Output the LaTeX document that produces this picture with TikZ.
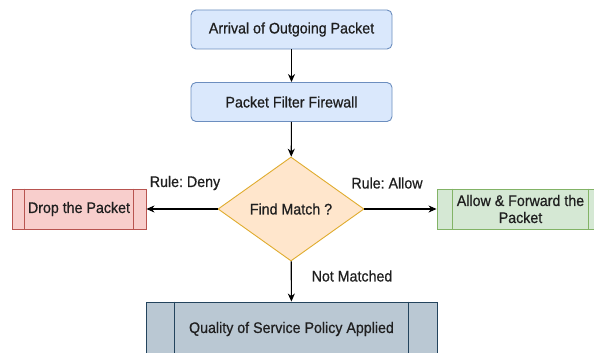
\documentclass[tikz,border=0pt]{standalone}
\usepackage{fontspec}
\setmainfont{Liberation Sans}[FakeStretch=0.93, FakeBold=0.6]
\usetikzlibrary{shapes.geometric,arrows.meta}

\definecolor{blueFill}{HTML}{DAE8FC}
\definecolor{blueLine}{HTML}{6C8EBF}
\definecolor{redFill}{HTML}{F8CECC}
\definecolor{redLine}{HTML}{B85450}
\definecolor{greenFill}{HTML}{D5E8D4}
\definecolor{greenLine}{HTML}{82B366}
\definecolor{orangeFill}{HTML}{FFE6CC}
\definecolor{orangeLine}{HTML}{E0AC2E}
\definecolor{slateFill}{HTML}{BAC8D3}
\definecolor{slateLine}{HTML}{23445D}

\frenchspacing
\tikzset{
  every node/.style={font=\fontsize{15.3}{17}\selectfont, text=black!88},
  stepbox/.style={draw=blueLine, fill=blueFill, rounded corners=5pt, line width=0.9pt,
    minimum width=201pt, minimum height=39pt, inner sep=0pt},
  procbox/.style={rectangle, line width=0.9pt, inner sep=0pt, align=center},
  decision/.style={diamond, draw=orangeLine, fill=orangeFill, line width=0.9pt,
    aspect=1.404, minimum width=146pt, minimum height=104pt, inner sep=0pt},
  flow/.style={line width=1.1pt, -{Stealth[length=8pt,width=7pt,inset=2.5pt]}},
  edgelabel/.style={inner sep=0pt}
}

\begin{document}
\begin{tikzpicture}[x=1pt, y=-1pt]
  \useasboundingbox[fill=white] (0,0) rectangle (594,353);

  \node[stepbox] (arrival) at (291.5,29.5) {Arrival of Outgoing Packet};
  \node[stepbox] (filter) at (291.5,102) {Packet Filter Firewall};
  \node[decision] (match) at (291,209) {Find Match ?};

  \node[procbox, draw=redLine, fill=redFill, minimum width=134pt, minimum height=40pt]
    (drop) at (79,209) {Drop the Packet};
  \draw[redLine, line width=0.9pt] ([xshift=13pt]drop.north west) -- ([xshift=13pt]drop.south west)
    ([xshift=-13pt]drop.north east) -- ([xshift=-13pt]drop.south east);

  \node[procbox, draw=greenLine, fill=greenFill, minimum width=167pt, minimum height=40pt,
    font=\fontsize{15.3}{17}\selectfont]
    (allow) at (520.5,209) {Allow \& Forward the\\Packet};
  \draw[greenLine, line width=0.9pt] ([xshift=16pt]allow.north west) -- ([xshift=16pt]allow.south west)
    ([xshift=-16pt]allow.north east) -- ([xshift=-16pt]allow.south east);

  \node[procbox, draw=slateLine, fill=slateFill, minimum width=291pt, minimum height=54pt]
    (qos) at (291.5,329) {Quality of Service Policy Applied};
  \draw[slateLine, line width=0.9pt] ([xshift=29pt]qos.north west) -- ([xshift=29pt]qos.south west)
    ([xshift=-29pt]qos.north east) -- ([xshift=-29pt]qos.south east);

  \draw[flow] (arrival) -- (filter);
  \draw[flow] (filter) -- (match);
  \draw[flow] (match) -- (drop);
  \draw[flow] (match) -- (allow);
  \draw[flow] (match) -- (qos);

  \node[edgelabel] (denyLabel) at (185,183) {Rule: Deny};
  \node[edgelabel] (allowLabel) at (387,183) {Rule: Allow};
  \node[edgelabel] (missLabel) at (352,276) {Not Matched};
\end{tikzpicture}
\end{document}
